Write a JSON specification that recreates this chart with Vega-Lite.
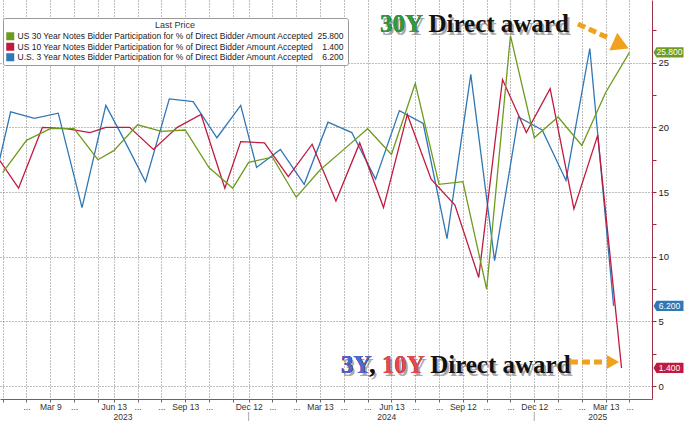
{
  "$schema": "https://vega.github.io/schema/vega-lite/v6.json",
  "description": "Direct bidder award at 3Y, 10Y and 30Y Treasury auctions, 2023 to April 2025",
  "width": 652,
  "height": 399,
  "autosize": {"type": "none"},
  "padding": {"left": 0, "top": 0, "right": 38, "bottom": 22},
  "background": "white",
  "config": {"view": {"stroke": null}, "font": "Liberation Sans"},
  "datasets": {
    "auctions": [
      {"series": "3Y", "slot": 0, "value": 13.3}, {"series": "3Y", "slot": 3, "value": 21.2}, {"series": "3Y", "slot": 6, "value": 20.7},
      {"series": "3Y", "slot": 9, "value": 21.1}, {"series": "3Y", "slot": 12, "value": 13.8}, {"series": "3Y", "slot": 15, "value": 21.7},
      {"series": "3Y", "slot": 17, "value": 19.4}, {"series": "3Y", "slot": 20, "value": 15.8}, {"series": "3Y", "slot": 23, "value": 22.2},
      {"series": "3Y", "slot": 26, "value": 22.0}, {"series": "3Y", "slot": 29, "value": 19.2}, {"series": "3Y", "slot": 32, "value": 21.7},
      {"series": "3Y", "slot": 34, "value": 16.9}, {"series": "3Y", "slot": 37, "value": 18.3}, {"series": "3Y", "slot": 40, "value": 15.6},
      {"series": "3Y", "slot": 43, "value": 20.4}, {"series": "3Y", "slot": 46, "value": 19.6}, {"series": "3Y", "slot": 49, "value": 16.0},
      {"series": "3Y", "slot": 52, "value": 21.3}, {"series": "3Y", "slot": 55, "value": 20.3}, {"series": "3Y", "slot": 58, "value": 11.4},
      {"series": "3Y", "slot": 61, "value": 24.1}, {"series": "3Y", "slot": 64, "value": 9.7}, {"series": "3Y", "slot": 67, "value": 20.8},
      {"series": "3Y", "slot": 70, "value": 19.8}, {"series": "3Y", "slot": 73, "value": 15.9}, {"series": "3Y", "slot": 76, "value": 26.1},
      {"series": "3Y", "slot": 79, "value": 6.2},
      {"series": "10Y", "slot": 1, "value": 18.0}, {"series": "10Y", "slot": 4, "value": 15.3}, {"series": "10Y", "slot": 7, "value": 20.0},
      {"series": "10Y", "slot": 10, "value": 19.9}, {"series": "10Y", "slot": 13, "value": 19.6}, {"series": "10Y", "slot": 15, "value": 20.0},
      {"series": "10Y", "slot": 18, "value": 20.0}, {"series": "10Y", "slot": 21, "value": 18.3}, {"series": "10Y", "slot": 24, "value": 20.0},
      {"series": "10Y", "slot": 27, "value": 21.0}, {"series": "10Y", "slot": 30, "value": 15.3}, {"series": "10Y", "slot": 32, "value": 18.9},
      {"series": "10Y", "slot": 35, "value": 18.8}, {"series": "10Y", "slot": 38, "value": 16.2}, {"series": "10Y", "slot": 41, "value": 18.7},
      {"series": "10Y", "slot": 44, "value": 14.3}, {"series": "10Y", "slot": 47, "value": 18.8}, {"series": "10Y", "slot": 50, "value": 13.8},
      {"series": "10Y", "slot": 53, "value": 21.0}, {"series": "10Y", "slot": 56, "value": 16.0}, {"series": "10Y", "slot": 59, "value": 14.0},
      {"series": "10Y", "slot": 62, "value": 8.4}, {"series": "10Y", "slot": 65, "value": 23.7}, {"series": "10Y", "slot": 68, "value": 19.6},
      {"series": "10Y", "slot": 71, "value": 23.0}, {"series": "10Y", "slot": 74, "value": 13.7}, {"series": "10Y", "slot": 77, "value": 19.4},
      {"series": "10Y", "slot": 80, "value": 1.4},
      {"series": "30Y", "slot": 2, "value": 16.5}, {"series": "30Y", "slot": 5, "value": 19.0}, {"series": "30Y", "slot": 8, "value": 19.9},
      {"series": "30Y", "slot": 11, "value": 19.9}, {"series": "30Y", "slot": 14, "value": 17.5}, {"series": "30Y", "slot": 16, "value": 18.2},
      {"series": "30Y", "slot": 19, "value": 20.2}, {"series": "30Y", "slot": 22, "value": 19.7}, {"series": "30Y", "slot": 25, "value": 19.8},
      {"series": "30Y", "slot": 28, "value": 16.9}, {"series": "30Y", "slot": 31, "value": 15.3}, {"series": "30Y", "slot": 33, "value": 17.3},
      {"series": "30Y", "slot": 36, "value": 17.7}, {"series": "30Y", "slot": 39, "value": 14.6}, {"series": "30Y", "slot": 42, "value": 16.7},
      {"series": "30Y", "slot": 45, "value": 18.3}, {"series": "30Y", "slot": 48, "value": 19.9}, {"series": "30Y", "slot": 51, "value": 17.9},
      {"series": "30Y", "slot": 54, "value": 23.4}, {"series": "30Y", "slot": 57, "value": 15.6}, {"series": "30Y", "slot": 60, "value": 15.8},
      {"series": "30Y", "slot": 63, "value": 7.5}, {"series": "30Y", "slot": 66, "value": 27.1}, {"series": "30Y", "slot": 69, "value": 19.2},
      {"series": "30Y", "slot": 72, "value": 20.8}, {"series": "30Y", "slot": 75, "value": 18.6}, {"series": "30Y", "slot": 78, "value": 22.7},
      {"series": "30Y", "slot": 81, "value": 25.8}
    ],
    "tags": [
      {"series": "30Y", "slot": 85.92, "value": 25.8, "label": "25.800"},
      {"series": "3Y", "slot": 85.92, "value": 6.2, "label": "6.200"},
      {"series": "10Y", "slot": 85.92, "value": 1.4, "label": "1.400"}
    ],
    "years": [
      {"year": "2023", "slot": 17.16, "value": -2.36},
      {"year": "2024", "slot": 50.4, "value": -2.36},
      {"year": "2025", "slot": 77.0, "value": -2.36}
    ],
    "yearBreaks": [
      {"slot": 33, "value": -2.0, "value2": -2.75},
      {"slot": 69, "value": -2.0, "value2": -2.75}
    ],
    "annot": [
      {"line": "top", "group": "text", "text": "30Y Direct award", "slot": 49.56, "value": 27.38},
      {"line": "top", "group": "30Y", "text": "30Y", "slot": 49.56, "value": 27.38},
      {"line": "bottom", "group": "text", "text": "3Y, 10Y Direct award", "slot": 44.64, "value": 1.0},
      {"line": "bottom", "group": "10Y", "text": "3Y, 10Y", "slot": 44.64, "value": 1.0},
      {"line": "bottom", "group": "text", "text": "3Y,", "slot": 44.64, "value": 1.0},
      {"line": "bottom", "group": "3Y", "text": "3Y", "slot": 44.64, "value": 1.0}
    ],
    "arrows": [
      {"arrow": "top", "part": "shaft", "slot": 74.5, "value": 28.0},
      {"arrow": "top", "part": "shaft", "slot": 78.6, "value": 26.85},
      {"arrow": "top", "part": "head", "slot": 79.93, "value": 26.37},
      {"arrow": "bottom", "part": "shaft", "slot": 73.5, "value": 1.86},
      {"arrow": "bottom", "part": "shaft", "slot": 78.0, "value": 1.86},
      {"arrow": "bottom", "part": "head", "slot": 78.92, "value": 1.86}
    ]
  },
  "encoding": {
    "x": {
      "field": "slot", "type": "quantitative",
      "scale": {"domain": [1.66, 83.84], "nice": false, "zero": false},
      "axis": {
        "orient": "bottom", "title": null,
        "values": [2, 5, 8, 11, 14, 16, 19, 22, 25, 28, 31, 33, 36, 39, 42, 45, 48, 51, 54, 57, 60, 63, 66, 69, 72, 75, 78, 81],
        "labelExpr": "['','...','Mar 9','...','','Jun 13','...','...','Sep 13','...','','Dec 12','...','...','Mar 13','...','...','Jun 13','...','...','Sep 12','...','...','Dec 12','...','...','Mar 13','...'][indexof([2,5,8,11,14,16,19,22,25,28,31,33,36,39,42,45,48,51,54,57,60,63,66,69,72,75,78,81], datum.value)]",
        "grid": true, "gridColor": "#666666", "gridDash": [1, 2], "gridWidth": 1, "gridOpacity": 0.85,
        "domain": true, "domainColor": "#666", "domainWidth": 1,
        "ticks": true, "tickColor": "#666", "tickSize": 3,
        "labelPadding": 0, "labelFontSize": 8.5, "labelColor": "#333",
        "labelOverlap": false, "labelFlush": false, "labelBound": false
      }
    },
    "y": {
      "field": "value", "type": "quantitative",
      "scale": {"domain": [-1.0, 29.85], "nice": false, "zero": false},
      "axis": {
        "orient": "right", "title": null,
        "values": [0, 2.5, 5, 7.5, 10, 12.5, 15, 17.5, 20, 22.5, 25, 27.5],
        "labelExpr": "datum.value % 5 === 0 ? format(datum.value, 'd') : ''",
        "grid": true, "gridColor": "#666666", "gridDash": [1, 2], "gridWidth": 1,
        "gridOpacity": {"condition": {"test": "datum.value % 5 === 0", "value": 0.85}, "value": 0},
        "domain": true, "domainColor": "#9A3444", "domainWidth": 1,
        "ticks": true, "tickColor": "#B22234", "tickSize": 4,
        "labelPadding": 2, "labelFontSize": 9.5, "labelColor": "#222",
        "labelOverlap": false, "labelFlush": false
      }
    }
  },
  "layer": [
    {
      "data": {"name": "auctions"},
      "mark": {"type": "line", "strokeWidth": 1.3, "clip": true},
      "encoding": {
        "color": {
          "field": "series", "type": "nominal",
          "scale": {"domain": ["30Y", "10Y", "3Y"], "range": ["#6E9B1F", "#C01A40", "#2F77B5"]},
          "legend": {
            "orient": "none", "legendX": 3, "legendY": 18,
            "title": "Last Price", "titleAnchor": "middle", "titleAlign": "center",
            "titleFontSize": 9, "titleFontWeight": "normal", "titleColor": "#333", "titlePadding": 2,
            "labelFontSize": 8.5, "labelColor": "#222", "labelLimit": 500, "labelOffset": 3,
            "symbolType": "square", "symbolSize": 64, "rowPadding": 1.5,
            "strokeColor": "#999", "fillColor": "white", "padding": 3, "cornerRadius": 2,
            "labelExpr": "datum.label === '30Y' ? 'US 30 Year Notes Bidder Participation for % of Direct Bidder Amount Accepted\u00a0\u00a025.800' : datum.label === '10Y' ? 'US 10 Year Notes Bidder Participation for % of Direct Bidder Amount Accepted\u00a0\u00a0\u00a0\u00a01.400' : 'U.S. 3 Year Notes Bidder Participation for % of Direct Bidder Amount Accepted\u00a0\u00a0\u00a0\u00a06.200'",
            "encode": {"symbols": {"update": {"fill": {"scale": "color", "field": "value"}, "strokeWidth": {"value": 0}, "opacity": {"value": 1}}}}
          }
        }
      }
    },
    {
      "data": {"name": "tags"},
      "mark": {"type": "point", "filled": true, "opacity": 1, "size": 900, "shape": "M-1,0L-0.8,-0.34L1,-0.34L1,0.34L-0.8,0.34Z"},
      "encoding": {
        "color": {"field": "series", "type": "nominal", "legend": null}
      }
    },
    {
      "data": {"name": "tags"},
      "mark": {"type": "text", "color": "white", "fontSize": 8.5, "align": "center", "baseline": "middle", "dx": 1},
      "encoding": {
        "text": {"field": "label"}
      }
    },
    {
      "data": {"name": "years"},
      "mark": {"type": "text", "fontSize": 8.5, "color": "#333", "align": "center", "baseline": "middle"},
      "encoding": {
        "text": {"field": "year"}
      }
    },
    {
      "data": {"name": "yearBreaks"},
      "mark": {"type": "rule", "color": "#aaa", "strokeWidth": 1},
      "encoding": {
        "y2": {"field": "value2"}
      }
    },
    {
      "data": {"name": "annot"},
      "transform": [{"filter": "indexof(datum.text, 'Direct') >= 0"}],
      "mark": {"type": "text", "font": "Liberation Serif", "fontWeight": "bold", "fontSize": 25, "align": "left", "baseline": "alphabetic", "color": "#666", "opacity": 0.55, "dx": 2, "dy": 3},
      "encoding": {
        "text": {"field": "text"}
      }
    },
    {
      "data": {"name": "annot"},
      "mark": {"type": "text", "font": "Liberation Serif", "fontWeight": "bold", "fontSize": 25, "align": "left", "baseline": "alphabetic"},
      "encoding": {
        "fill": {
          "field": "group", "type": "nominal", "legend": null,
          "scale": {"domain": ["text", "30Y", "10Y", "3Y"], "range": ["#111111", "#2E9C3A", "#E8474D", "#4A6AD8"]}
        },
        "text": {"field": "text"}
      }
    },
    {
      "data": {"name": "arrows"},
      "transform": [{"filter": "datum.part === 'shaft'"}],
      "mark": {"type": "line", "color": "#F0A21E", "strokeWidth": 5, "strokeDash": [8, 4], "strokeCap": "butt", "clip": false},
      "encoding": {
        "detail": {"field": "arrow", "type": "nominal"}
      }
    },
    {
      "data": {"name": "arrows"},
      "transform": [{"filter": "datum.part === 'head' && datum.arrow === 'top'"}],
      "mark": {"type": "point", "shape": "triangle-right", "filled": true, "opacity": 1, "color": "#F0A21E", "size": 380, "angle": 24},
      "encoding": {}
    },
    {
      "data": {"name": "arrows"},
      "transform": [{"filter": "datum.part === 'head' && datum.arrow === 'bottom'"}],
      "mark": {"type": "point", "shape": "triangle-right", "filled": true, "opacity": 1, "color": "#F0A21E", "size": 200},
      "encoding": {}
    }
  ]
}
